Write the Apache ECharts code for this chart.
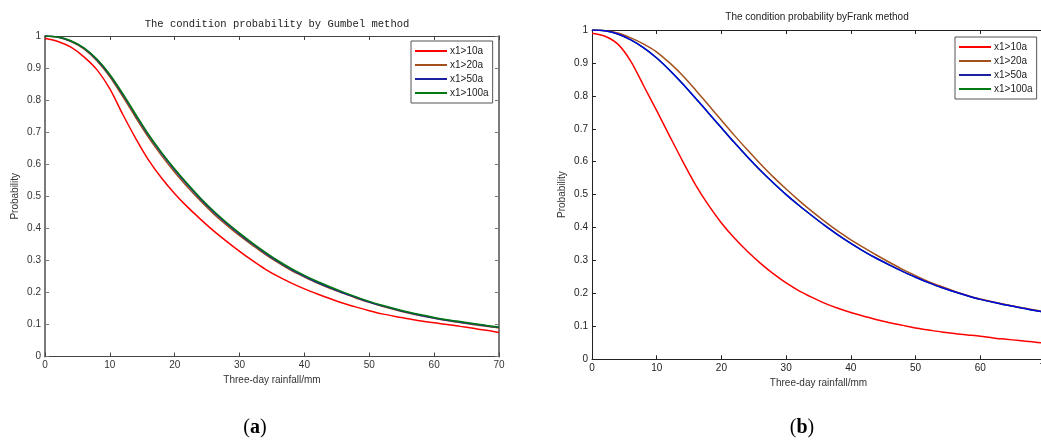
<!DOCTYPE html>
<html>
<head>
<meta charset="utf-8">
<script src="https://cdn.jsdelivr.net/npm/echarts@6/dist/echarts.min.js"></script>
<style>
html,body{margin:0;padding:0;background:#fff;}
#c{width:1041px;height:441px;}
</style>
</head>
<body>
<div id="c"></div>
<script>
// ---- data ----
const xs = [0,2,4,6,8,10,12,14,16,18,20,22,24,26,28,30,32,34,36,38,40,42,44,46,48,50,52,54,56,58,60,62,64,66,68,70];
const seriesNames = ['x1>10a','x1>20a','x1>50a','x1>100a'];
const xTicks = [0,10,20,30,40,50,60,70];
const yTicks = [0,0.1,0.2,0.3,0.4,0.5,0.6,0.7,0.8,0.9,1];

// (a) Gumbel
const gumbel10  = [0.993,0.983,0.965,0.935,0.895,0.835,0.755,0.680,0.612,0.556,0.508,0.466,0.428,0.392,0.359,0.328,0.299,0.272,0.249,0.229,0.211,0.195,0.180,0.166,0.154,0.143,0.133,0.125,0.118,0.111,0.105,0.100,0.094,0.088,0.082,0.075];
const gumbel20  = [1.0,0.996,0.983,0.960,0.923,0.873,0.811,0.745,0.682,0.626,0.575,0.528,0.485,0.445,0.410,0.377,0.347,0.318,0.292,0.268,0.248,0.229,0.212,0.197,0.182,0.169,0.157,0.146,0.136,0.127,0.119,0.112,0.106,0.100,0.094,0.089];
const gumbel50  = [1.0,0.997,0.984,0.962,0.926,0.877,0.817,0.752,0.689,0.633,0.582,0.535,0.491,0.451,0.415,0.382,0.351,0.322,0.295,0.271,0.250,0.231,0.214,0.198,0.184,0.170,0.158,0.147,0.137,0.128,0.120,0.113,0.107,0.101,0.096,0.091];
const gumbel100 = [1.0,0.997,0.985,0.963,0.928,0.880,0.820,0.755,0.692,0.636,0.585,0.538,0.494,0.454,0.418,0.385,0.354,0.325,0.298,0.274,0.253,0.234,0.217,0.201,0.186,0.172,0.160,0.149,0.139,0.130,0.122,0.115,0.109,0.103,0.097,0.092];

// (b) Frank
const frank10  = [0.990,0.981,0.957,0.905,0.830,0.755,0.678,0.602,0.530,0.468,0.414,0.368,0.328,0.292,0.260,0.232,0.208,0.188,0.170,0.155,0.142,0.131,0.120,0.111,0.103,0.095,0.089,0.083,0.078,0.074,0.070,0.065,0.061,0.057,0.053,0.049];
const frank20  = [1.0,0.998,0.991,0.976,0.957,0.933,0.900,0.862,0.818,0.772,0.726,0.680,0.636,0.594,0.554,0.517,0.482,0.449,0.418,0.389,0.363,0.339,0.316,0.294,0.273,0.254,0.236,0.221,0.207,0.194,0.183,0.174,0.166,0.158,0.151,0.144];
const frank50  = [1.0,0.998,0.988,0.970,0.946,0.915,0.878,0.837,0.793,0.748,0.703,0.658,0.615,0.574,0.536,0.500,0.467,0.436,0.406,0.378,0.352,0.328,0.306,0.286,0.267,0.249,0.233,0.218,0.205,0.193,0.182,0.173,0.165,0.157,0.150,0.143];
const frank100 = [1.0,0.998,0.988,0.970,0.946,0.915,0.878,0.837,0.793,0.748,0.703,0.658,0.615,0.574,0.536,0.500,0.467,0.436,0.406,0.378,0.352,0.328,0.306,0.286,0.267,0.249,0.233,0.218,0.205,0.193,0.182,0.173,0.165,0.157,0.150,0.143];

const colors = ['#ff0000','#a4501c','#1a22a0','#007a10'];
const colorsB = ['#ff0000','#a4501c','#0000e6','#008000'];

// ---- helpers ----
const pairs = (arr) => xs.map((x,i)=>[x,arr[i]]);
const sansFont = '"Liberation Sans", Arial, sans-serif';

function bottomX(gi, lineColor, lblColor){
  return {
    type:'value', gridIndex:gi, position:'bottom', min:0, max:70, interval:10,
    name:'Three-day rainfall/mm', nameLocation:'middle', nameGap:19,
    nameTextStyle:{fontFamily:sansFont,fontSize:10,color:'#333'},
    axisLine:{show:true,onZero:false,lineStyle:{color:lineColor,width:1}},
    axisTick:{show:true,inside:true,length:4,lineStyle:{color:lineColor}},
    axisLabel:{show:true,margin:4,fontFamily:sansFont,fontSize:10,color:lblColor,
      formatter:(v)=> xTicks.includes(v)? String(v):''},
    splitLine:{show:false}
  };
}
function topX(gi, lineColor){
  return {
    type:'value', gridIndex:gi, position:'top', min:0, max:70, interval:10,
    axisLine:{show:true,onZero:false,lineStyle:{color:lineColor,width:1}},
    axisTick:{show:true,inside:true,length:4,lineStyle:{color:lineColor}},
    axisLabel:{show:false}, splitLine:{show:false}
  };
}
function leftY(gi, lineColor, lw, lblColor){
  return {
    type:'value', gridIndex:gi, position:'left', min:0, max:1, interval:0.1,
    name:'Probability', nameLocation:'middle', nameGap:25, nameRotate:90,
    nameTextStyle:{fontFamily:sansFont,fontSize:10,color:'#333'},
    axisLine:{show:true,onZero:false,lineStyle:{color:lineColor,width:lw}},
    axisTick:{show:true,inside:true,length:4,lineStyle:{color:lineColor}},
    axisLabel:{show:true,margin:4,fontFamily:sansFont,fontSize:10,color:lblColor,
      formatter:(v)=> String(Math.round(v*10)/10)},
    splitLine:{show:false}
  };
}
function rightY(gi, lineColor, lw){
  return {
    type:'value', gridIndex:gi, position:'right', min:0, max:1, interval:0.1,
    axisLine:{show:true,onZero:false,lineStyle:{color:lineColor,width:lw}},
    axisTick:{show:true,inside:true,length:4,lineStyle:{color:lineColor}},
    axisLabel:{show:false}, splitLine:{show:false}
  };
}
function line(name, data, color, xi, yi, z){
  return {
    type:'line', name:name, xAxisIndex:xi, yAxisIndex:yi, data:pairs(data),
    symbol:'none', smooth:0.3, z:z,
    lineStyle:{color:color,width:1.5}, itemStyle:{color:color}
  };
}
function legend(left, top){
  return {
    data:seriesNames, orient:'vertical', left:left, top:top,
    icon:'rect', itemWidth:32, itemHeight:2, itemGap:2,
    padding:[4,4,4,4],
    borderColor:'#555', borderWidth:1, backgroundColor:'#fff',
    textStyle:{fontFamily:sansFont,fontSize:10,color:'#222',lineHeight:12,padding:[0,0,0,-2]},
    selectedMode:false
  };
}

const chart = echarts.init(document.getElementById('c'), null, {renderer:'canvas'});
chart.setOption({
  animation:false,
  backgroundColor:'#fff',
  grid:[
    {left:45, top:36, width:454, height:320.5, containLabel:false, outerBoundsMode:'none'},
    {left:592, top:30, width:453, height:329.3, containLabel:false, outerBoundsMode:'none'}
  ],
  xAxis:[ bottomX(0,'#444','#333'), topX(0,'#444'), bottomX(1,'#222','#222'), topX(1,'#222') ],
  yAxis:[ leftY(0,'#7a7a7a',2,'#333'), rightY(0,'#7a7a7a',2), leftY(1,'#222',1,'#222'), rightY(1,'#222',1) ],
  legend:[ legend(411,41), legend(955,37) ],
  series:[
    line(seriesNames[0], gumbel10,  colors[0], 0, 0, 3),
    line(seriesNames[1], gumbel20,  colors[1], 0, 0, 4),
    line(seriesNames[2], gumbel50,  colors[2], 0, 0, 5),
    line(seriesNames[3], gumbel100, colors[3], 0, 0, 6),
    line(seriesNames[0], frank10,  colorsB[0], 2, 2, 3),
    line(seriesNames[1], frank20,  colorsB[1], 2, 2, 4),
    line(seriesNames[2], frank50,  colorsB[2], 2, 2, 5),
    line(seriesNames[3], frank100, colorsB[3], 2, 2, 2)
  ],
  graphic:[
    {type:'text', x:277, y:24, style:{text:'The condition probability by Gumbel method',
      font:'10.5px "Liberation Mono", monospace', fill:'#222', textAlign:'center', textVerticalAlign:'middle'}},
    {type:'text', x:817, y:17, style:{text:'The condition probability byFrank method',
      font:'10px "Liberation Sans", Arial, sans-serif', fill:'#222', textAlign:'center', textVerticalAlign:'middle'}},
    {type:'text', x:255, y:428, style:{text:'{n|(}{b|a}{n|)}', textAlign:'center', textVerticalAlign:'middle',
      rich:{n:{font:'20px "Liberation Serif", serif', fill:'#000'}, b:{font:'bold 20px "Liberation Serif", serif', fill:'#000'}}}},
    {type:'text', x:802, y:428, style:{text:'{n|(}{b|b}{n|)}', textAlign:'center', textVerticalAlign:'middle',
      rich:{n:{font:'20px "Liberation Serif", serif', fill:'#000'}, b:{font:'bold 20px "Liberation Serif", serif', fill:'#000'}}}}
  ]
});
</script>
</body>
</html>
